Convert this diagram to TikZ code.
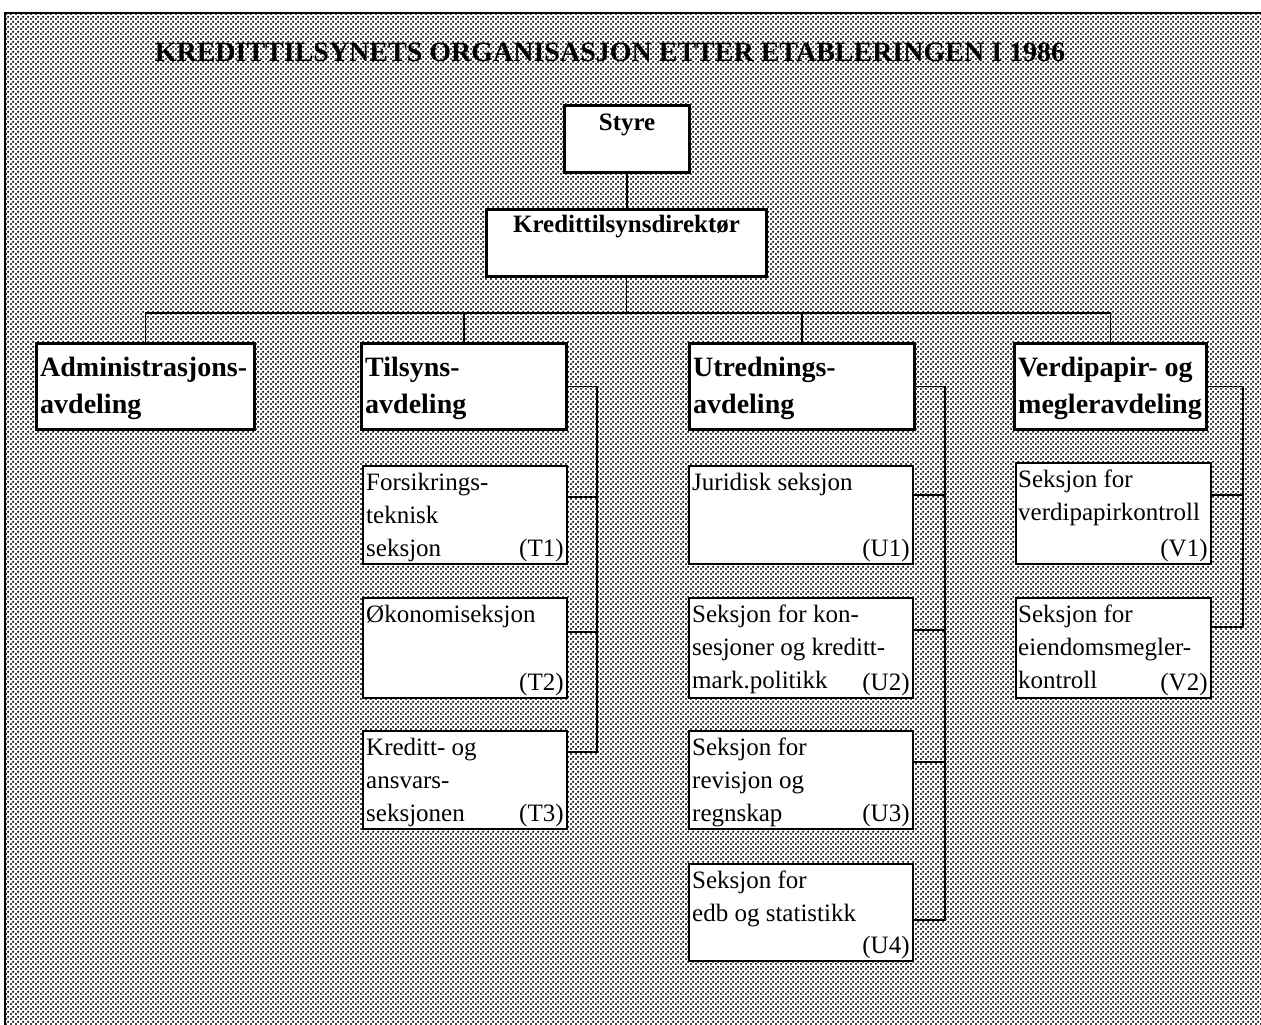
\documentclass[tikz,border=0pt]{standalone}
\usepackage{fontspec}
\setmainfont{Liberation Serif}
\usetikzlibrary{patterns}
\pgfdeclarepatternformonly{halftone}{\pgfpointorigin}{\pgfpoint{5pt}{5pt}}{\pgfpoint{5pt}{5pt}}{%
  \pgfpathcircle{\pgfpoint{1.25pt}{1.25pt}}{1.35pt}%
  \pgfpathcircle{\pgfpoint{3.75pt}{3.75pt}}{1.35pt}%
  \pgfusepath{fill}}
\tikzset{
  topbox/.style={draw, fill=white, line width=3.2pt, inner sep=0pt, anchor=north west},
  deptbox/.style={draw, fill=white, line width=2.6pt, inner sep=0pt, anchor=north west},
  secbox/.style={draw, fill=white, line width=1.8pt, inner sep=0pt, anchor=north west},
  toptext/.style={inner sep=0pt, anchor=north, font=\fontsize{25}{28}\selectfont\bfseries},
  depttext/.style={inner sep=0pt, anchor=north west, align=left, font=\fontsize{28}{37}\selectfont\bfseries},
  sectext/.style={inner sep=0pt, anchor=north west, align=left, font=\fontsize{25}{33}\selectfont},
  seclabel/.style={inner sep=0pt, anchor=base east, font=\fontsize{25}{33}\selectfont},
  conn/.style={line width=1.5pt}
}
\begin{document}
\begin{tikzpicture}[x=1pt,y=-1pt]
\useasboundingbox (0,0) rectangle (1261,1025);
\fill[white] (0,0) rectangle (1261,1025);
\fill[pattern=halftone, pattern color=black] (5,13) rectangle (1261,1025);
\draw[line width=1.5pt] (5,1025) |- (1261,13);

% title
\node[inner sep=0pt, font=\fontsize{28}{30}\selectfont\bfseries] (title) at (610,52)
  {KREDITTILSYNETS ORGANISASJON ETTER ETABLERINGEN I 1986};

% top boxes
\node[topbox, minimum width=125pt, minimum height=67pt] (styre) at (563,104) {};
\node[toptext] (styreT) at ([yshift=-10pt]styre.north) {Styre};
\node[topbox, line width=3pt, minimum width=280pt, minimum height=67pt] (kred) at (485,208) {};
\node[toptext] (kredT) at ([yshift=-7pt]kred.north) {Kredittilsynsdirektør};

% departments
\node[deptbox, minimum width=218pt, minimum height=86pt] (adm) at (35,342) {};
\node[depttext] (admT) at ([shift={(5,15)}]adm.north west) {Administrasjons-\\avdeling};
\node[deptbox, minimum width=205pt, minimum height=86pt] (tils) at (360,342) {};
\node[depttext] (tilsT) at ([shift={(5,15)}]tils.north west) {Tilsyns-\\avdeling};
\node[deptbox, minimum width=225pt, minimum height=86pt] (utr) at (688,342) {};
\node[depttext] (utrT) at ([shift={(5,15)}]utr.north west) {Utrednings-\\avdeling};
\node[deptbox, minimum width=192pt, minimum height=86pt] (verd) at (1013,342) {};
\node[depttext] (verdT) at ([shift={(5,15)}]verd.north west) {Verdipapir- og\\megleravdeling};

% sections T
\node[secbox, minimum width=204pt, minimum height=98pt] (t1) at (362,465) {};
\node[sectext] (t1T) at ([shift={(4,8)}]t1.north west) {Forsikrings-\\teknisk\\seksjon};
\node[seclabel] (t1L) at ([shift={(-4,-8)}]t1.south east) {(T1)};
\node[secbox, minimum width=204pt, minimum height=100pt] (t2) at (362,597) {};
\node[sectext] (t2T) at ([shift={(4,8)}]t2.north west) {Økonomiseksjon};
\node[seclabel] (t2L) at ([shift={(-4,-8)}]t2.south east) {(T2)};
\node[secbox, minimum width=204pt, minimum height=98pt] (t3) at (362,730) {};
\node[sectext] (t3T) at ([shift={(4,8)}]t3.north west) {Kreditt- og\\ansvars-\\seksjonen};
\node[seclabel] (t3L) at ([shift={(-4,-8)}]t3.south east) {(T3)};

% sections U
\node[secbox, minimum width=224pt, minimum height=98pt] (u1) at (688,465) {};
\node[sectext] (u1T) at ([shift={(4,8)}]u1.north west) {Juridisk seksjon};
\node[seclabel] (u1L) at ([shift={(-4,-8)}]u1.south east) {(U1)};
\node[secbox, minimum width=224pt, minimum height=100pt] (u2) at (688,597) {};
\node[sectext] (u2T) at ([shift={(4,8)}]u2.north west) {Seksjon for kon-\\sesjoner og kreditt-\\mark.politikk};
\node[seclabel] (u2L) at ([shift={(-4,-8)}]u2.south east) {(U2)};
\node[secbox, minimum width=224pt, minimum height=98pt] (u3) at (688,730) {};
\node[sectext] (u3T) at ([shift={(4,8)}]u3.north west) {Seksjon for\\revisjon og\\regnskap};
\node[seclabel] (u3L) at ([shift={(-4,-8)}]u3.south east) {(U3)};
\node[secbox, minimum width=224pt, minimum height=97pt] (u4) at (688,863) {};
\node[sectext] (u4T) at ([shift={(4,8)}]u4.north west) {Seksjon for\\edb og statistikk};
\node[seclabel] (u4L) at ([shift={(-4,-8)}]u4.south east) {(U4)};

% sections V
\node[secbox, minimum width=195pt, minimum height=101pt] (v1) at (1015,462) {};
\node[sectext] (v1T) at ([shift={(3,8)}]v1.north west) {Seksjon for\\verdipapirkontroll};
\node[seclabel] (v1L) at ([shift={(-4,-8)}]v1.south east) {(V1)};
\node[secbox, minimum width=195pt, minimum height=100pt] (v2) at (1015,597) {};
\node[sectext] (v2T) at ([shift={(3,8)}]v2.north west) {Seksjon for\\eiendomsmegler-\\kontroll};
\node[seclabel] (v2L) at ([shift={(-4,-8)}]v2.south east) {(V2)};

% connectors top
\draw[conn] (styre.south) -- (styre.south |- kred.north);
\path (kred.south) ++(0,35) coordinate (busC);
\draw[conn] (kred.south) -- (busC);
\draw[conn] (adm.north) |- (busC) -| (verd.north);
\draw[conn] (tils.north) -- (tils.north |- busC);
\draw[conn] (utr.north) -- (utr.north |- busC);

% T bracket
\coordinate (tx) at (597,0);
\coordinate (t1c) at ([yshift=-32pt]t1.north east);
\coordinate (t2c) at ([yshift=-35pt]t2.north east);
\coordinate (t3c) at ([yshift=-22pt]t3.north east);
\draw[conn] (tils.east) -| (tx |- t3c) -- (t3c);
\draw[conn] (t1c) -- (tx |- t1c);
\draw[conn] (t2c) -- (tx |- t2c);

% U bracket
\coordinate (ux) at (945,0);
\coordinate (u1c) at ([yshift=-30pt]u1.north east);
\coordinate (u2c) at ([yshift=-33pt]u2.north east);
\coordinate (u3c) at ([yshift=-32pt]u3.north east);
\coordinate (u4c) at ([yshift=-57pt]u4.north east);
\draw[conn] (utr.east) -| (ux |- u4c) -- (u4c);
\draw[conn] (u1c) -- (ux |- u1c);
\draw[conn] (u2c) -- (ux |- u2c);
\draw[conn] (u3c) -- (ux |- u3c);

% V bracket
\coordinate (vx) at (1243,0);
\coordinate (v1c) at ([yshift=-33pt]v1.north east);
\coordinate (v2c) at ([yshift=-30pt]v2.north east);
\draw[conn] (verd.east) -| (vx |- v2c) -- (v2c);
\draw[conn] (v1c) -- (vx |- v1c);
\end{tikzpicture}
\end{document}
